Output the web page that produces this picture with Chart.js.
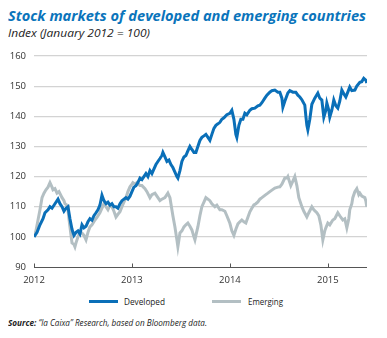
<!DOCTYPE html>
<html><head><meta charset="utf-8">
<script src="https://cdn.jsdelivr.net/npm/chart.js@4/dist/chart.umd.min.js"></script>
<style>
html,body{margin:0;padding:0;background:#fff;width:387px;height:338px;overflow:hidden;}
.t{position:absolute;white-space:nowrap;transform-origin:0 50%;font-family:"Open Sans",sans-serif;}
#title{left:8px;top:6px;font-size:14px;font-weight:bold;font-style:italic;color:#0a74bb;}
#sub{left:8px;top:25px;font-size:11px;font-style:italic;color:#222;}
#src{left:8px;top:316px;font-size:9px;font-style:italic;color:#222;}
.lg{position:absolute;top:295px;font-size:9px;color:#222;}
.sw{position:absolute;height:3px;top:300px;width:29px;}
#wrap{position:absolute;left:0;top:0;width:387px;height:290px;}
</style></head><body>
<div id="title" class="t">Stock markets of developed and emerging countries</div>
<div id="sub" class="t">Index (January 2012 = 100)</div>
<div class="sw" style="left:89px;background:#0a6fb8"></div>
<div id="lg1" class="t lg" style="left:124px">Developed</div>
<div class="sw" style="left:212px;background:#b3bfc3"></div>
<div id="lg2" class="t lg" style="left:248px">Emerging</div>
<div id="src" class="t"><b>Source:</b> “la Caixa” Research, based on Bloomberg data.</div>
<div id="wrap"><canvas id="c"></canvas></div>
<script>
const seriesNames = ["Developed", "Emerging"];
const yTicks = [90, 100, 110, 120, 130, 140, 150, 160];
const xTicks = [2012, 2013, 2014, 2015];

const devDates = [2012.000,2012.031,2012.061,2012.092,2012.112,2012.143,2012.163,2012.184,2012.214,2012.245,2012.265,2012.286,2012.306,2012.327,2012.347,2012.367,2012.388,2012.408,2012.429,2012.449,2012.469,2012.490,2012.510,2012.531,2012.551,2012.571,2012.592,2012.612,2012.633,2012.653,2012.673,2012.694,2012.714,2012.735,2012.755,2012.776,2012.796,2012.816,2012.837,2012.857,2012.878,2012.898,2012.918,2012.939,2012.959,2012.980,
2013.000,2013.020,2013.041,2013.061,2013.082,2013.102,2013.122,2013.143,2013.163,2013.184,2013.204,2013.224,2013.245,2013.265,2013.286,2013.306,2013.316,2013.337,2013.357,2013.378,2013.398,2013.418,2013.439,2013.459,2013.469,2013.490,2013.510,2013.531,2013.551,2013.571,2013.592,2013.612,2013.633,2013.653,2013.673,2013.694,2013.714,2013.735,2013.755,2013.776,2013.796,2013.816,2013.837,2013.857,2013.878,2013.898,2013.918,2013.939,2013.969,
2014.000,2014.020,2014.041,2014.061,2014.071,2014.092,2014.112,2014.133,2014.153,2014.173,2014.204,2014.224,2014.255,2014.286,2014.306,2014.327,2014.357,2014.378,2014.408,2014.429,2014.459,2014.490,2014.510,2014.531,2014.541,2014.561,2014.592,2014.612,2014.643,2014.673,2014.694,2014.714,2014.735,2014.765,2014.776,2014.786,2014.796,2014.816,2014.837,2014.867,2014.898,2014.918,2014.939,2014.959,2014.980,2014.990,
2015.010,2015.020,2015.041,2015.061,2015.082,2015.102,2015.122,2015.143,2015.163,2015.184,2015.204,2015.224,2015.245,2015.276,2015.296,2015.327,2015.347,2015.367,2015.388,2015.398];
const devValues = [100,101.5,104,106,108,109,110,109.5,111,112.5,111,110,108.5,109.5,110,106,102.5,100.5,101.5,102,101,104,103,103.5,105,106,105.5,107,108,109,110.5,113.8,112,111,111.5,110.5,111,110,110,109.5,111,112,112.5,113,112.5,113.5,
115,116.5,117,118,119.5,119,120,121,120,122,121,122.5,124,125,126,127,128,126.5,125,125.5,124,123,121.5,120,119.5,122,125,126.5,127,128.5,130,129,128,128,130,132,133,133.5,134,133,132,134,136,137,137.5,138,139,139.5,140.5,
141,142,139,134,133,137,139,139,141,140.5,142,142.5,142.7,143.5,143.7,144.5,146,147,148,148.5,148.7,148,148,146,143,145,147.7,148.5,148,148,147,146.4,145.5,143.7,140,137,135.5,139,144,146,147.7,146,145.4,139.7,142,144.4,
142,139.7,142,145.4,143.5,142.7,145,148.7,147.5,146.4,148,149.7,148.5,148.7,150,151.3,151.5,152.6,152,151];

const emgDates = [2012.000,2012.020,2012.041,2012.061,2012.082,2012.102,2012.122,2012.143,2012.163,2012.184,2012.194,2012.214,2012.235,2012.255,2012.286,2012.306,2012.316,2012.337,2012.347,2012.357,2012.367,2012.378,2012.388,2012.408,2012.418,2012.429,2012.449,2012.469,2012.490,2012.510,2012.531,2012.551,2012.571,2012.592,2012.622,2012.643,2012.673,2012.694,2012.714,2012.735,2012.755,2012.776,2012.796,2012.816,2012.837,2012.857,2012.878,2012.898,2012.918,2012.939,2012.959,2012.980,
2013.000,2013.010,2013.031,2013.051,2013.082,2013.102,2013.133,2013.153,2013.184,2013.204,2013.235,2013.255,2013.286,2013.306,2013.337,2013.367,2013.388,2013.398,2013.418,2013.439,2013.459,2013.469,2013.480,2013.490,2013.510,2013.531,2013.551,2013.571,2013.592,2013.612,2013.633,2013.643,2013.653,2013.673,2013.694,2013.714,2013.735,2013.755,2013.776,2013.796,2013.816,2013.847,2013.867,2013.898,2013.918,2013.949,2013.969,
2014.000,2014.020,2014.041,2014.061,2014.082,2014.102,2014.122,2014.143,2014.163,2014.184,2014.204,2014.224,2014.245,2014.265,2014.286,2014.306,2014.327,2014.347,2014.367,2014.388,2014.408,2014.429,2014.459,2014.490,2014.510,2014.531,2014.561,2014.582,2014.592,2014.612,2014.622,2014.643,2014.663,2014.684,2014.704,2014.735,2014.755,2014.786,2014.806,2014.837,2014.857,2014.888,2014.908,2014.929,2014.939,2014.949,2014.969,2014.980,
2015.000,2015.020,2015.051,2015.071,2015.102,2015.122,2015.153,2015.173,2015.194,2015.214,2015.224,2015.245,2015.255,2015.276,2015.296,2015.316,2015.327,2015.347,2015.378,2015.388,2015.398];
const emgValues = [100,102,105.6,109,113,114.5,115.6,116.5,118,116.5,115.6,116,114.5,115,113,112,111,110.5,109,106,103.3,100.5,98,97.5,96.7,98,100,101.5,101.3,100.5,99,101.5,103.3,104,105.6,106.5,108,109.5,111,110,109,110.5,110,108.5,106.6,107.5,108.3,110,111.5,113,115,116.6,
117.5,118,117.5,118,117,117,116,115,113,114,114.5,113.5,112,112.5,113,114.5,113,111,107,103.3,99,96.7,99,101.3,102,103.3,104,104.6,103.5,102.3,100,99,100.5,103.3,107,110,111.5,113,112.5,112,111,110,110.5,109,109,108.5,107,
104.5,102,100.5,102.5,104.3,105,105.6,105,104.6,106.5,108.3,109.5,110.6,111,111.6,112.5,113,113.5,114,114.5,115,115.5,116.2,116.5,116.6,117.5,119.5,119.5,120,118,117,118.5,120,117,113,110,108.5,106.6,108,110,109,108,107,104,101.5,99,102,103,
104.6,104,105.6,106,108,107,105.6,106,103,106,109,111,113,115,116,114,114.5,113.5,113,112,110];

function pts(xs, ys){ return xs.map((x,i)=>({x:x, y:ys[i]})); }

const tickPlugin = {
  id:'innerTicks',
  afterDatasetsDraw(chart){
    const xs = chart.scales.x, ys = chart.scales.y, ctx = chart.ctx;
    const yb = Math.round(ys.getPixelForValue(90))+0.5;
    ctx.save();
    ctx.strokeStyle = '#555'; ctx.lineWidth = 1;
    ctx.beginPath();
    ctx.moveTo(xs.left, yb); ctx.lineTo(xs.right, yb);
    xTicks.forEach(t=>{ const px = Math.round(xs.getPixelForValue(t))+0.5; ctx.moveTo(px, yb); ctx.lineTo(px, yb-4); });
    ctx.stroke();
    ctx.restore();
  }
};

new Chart(document.getElementById('c'), {
  type:'line',
  data:{datasets:[
    {label:seriesNames[0], data:pts(devDates, devValues), borderColor:'#0a6fb8', borderWidth:3, pointRadius:0, tension:0, order:0},
    {label:seriesNames[1], data:pts(emgDates, emgValues), borderColor:'#b3bfc3', borderWidth:3, pointRadius:0, tension:0, order:1}
  ]},
  options:{
    responsive:true, maintainAspectRatio:false, animation:false,
    layout:{padding:{left:0, right:20, top:56, bottom:0}},
    plugins:{legend:{display:false}, tooltip:{enabled:false}},
    scales:{
      x:{type:'linear', min:2012, max:2015.4,
         afterBuildTicks(s){ s.ticks = xTicks.map(v=>({value:v})); },
         afterFit(s){ s.height = 23; },
         grid:{display:false, drawTicks:false},
         border:{display:false},
         ticks:{padding:8, color:'#333', font:{family:'"Open Sans"', size:9.5}, callback:v=>String(v), maxRotation:0}},
      y:{min:90, max:160,
         afterBuildTicks(s){ s.ticks = yTicks.map(v=>({value:v})); },
         afterFit(s){ s.width = 34; },
         grid:{color:c=> c.tick && c.tick.value===90 ? 'rgba(0,0,0,0)' : '#d3d3d3', lineWidth:1.2, drawTicks:false},
         border:{display:false},
         ticks:{padding:8, color:'#333', font:{family:'"Open Sans"', size:9.5}}}
    }
  },
  plugins:[tickPlugin]
});

function fit(id, w){ const el=document.getElementById(id); const r=el.getBoundingClientRect().width; el.style.transform='scaleX('+(w/r)+')'; }
fit('title', 358); fit('sub', 142); fit('src', 199); fit('lg1', 41); fit('lg2', 35);
</script>
</body></html>
